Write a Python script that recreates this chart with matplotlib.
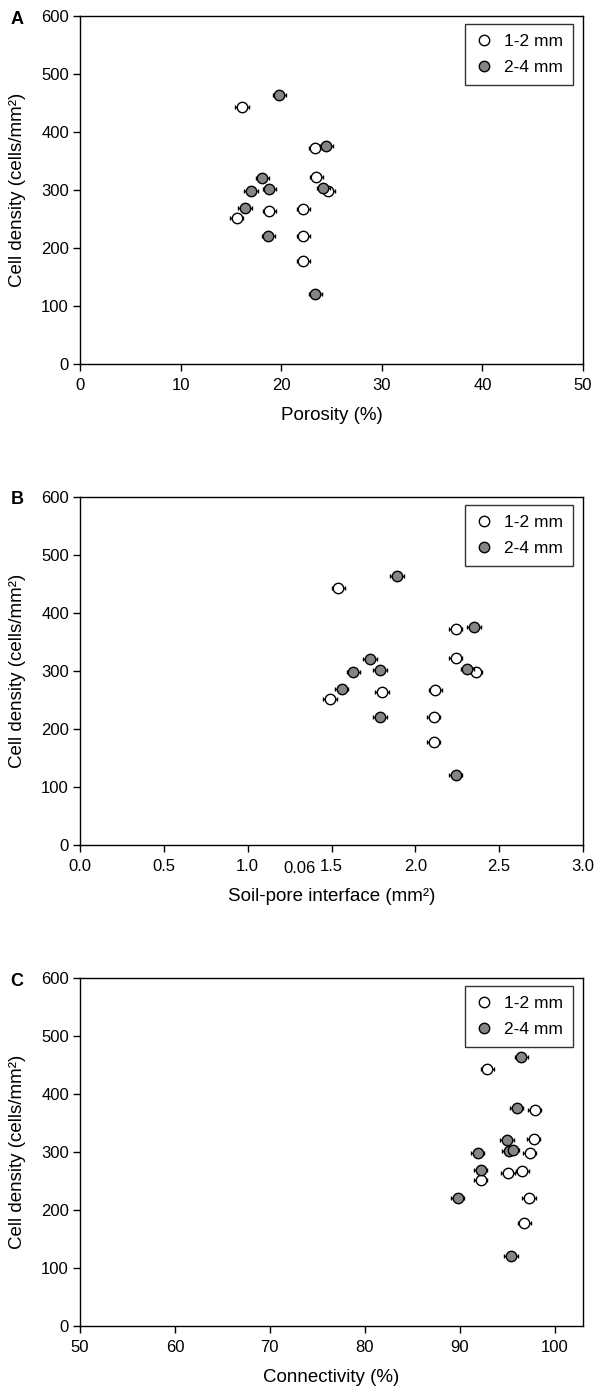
import matplotlib
matplotlib.use("Agg")
import matplotlib.pyplot as plt
from matplotlib.lines import Line2D
from matplotlib.ticker import FormatStrFormatter

plt.rcParams['font.family'] = ['Liberation Sans', 'DejaVu Sans']

# ---- data ----
series_labels = ["1-2 mm", "2-4 mm"]
# cell density (cells/mm2), shared by the three panels
y_small = [443, 372, 323, 298, 264, 267, 252, 221, 178]
y_large = [464, 376, 321, 298, 302, 303, 269, 221, 121]

porosity_small = [16.1, 23.4, 23.5, 24.7, 18.8, 22.2, 15.6, 22.2, 22.2]
porosity_large = [19.8, 24.5, 18.1, 17.0, 18.8, 24.2, 16.4, 18.7, 23.4]
porosity_err = 0.65

interface_small = [1.54, 2.24, 2.24, 2.36, 1.80, 2.12, 1.49, 2.11, 2.11]
interface_large = [1.89, 2.35, 1.73, 1.63, 1.79, 2.31, 1.56, 1.79, 2.24]
interface_err = 0.04

connect_small = [92.9, 97.9, 97.8, 97.4, 95.1, 96.6, 92.2, 97.3, 96.8]
connect_large = [96.5, 96.0, 95.0, 91.9, 95.2, 95.6, 92.2, 89.8, 95.4]
connect_err = 0.7

panels = [
    dict(letter="A", xs=porosity_small, xl=porosity_large, err=porosity_err,
         xlim=(0, 50), xticks=[0, 10, 20, 30, 40, 50], fmt=None,
         xlabel="Porosity (%)"),
    dict(letter="B", xs=interface_small, xl=interface_large, err=interface_err,
         xlim=(0, 3), xticks=[0.0, 0.5, 1.0, 1.5, 2.0, 2.5, 3.0], fmt="%.1f",
         xlabel="Soil-pore interface (mm²)"),
    dict(letter="C", xs=connect_small, xl=connect_large, err=connect_err,
         xlim=(50, 103), xticks=[50, 60, 70, 80, 90, 100], fmt=None,
         xlabel="Connectivity (%)"),
]

W, H = 597, 1391
fig = plt.figure(figsize=(W / 100, H / 100), dpi=100)

left_px, right_px = 80, 583
tops = [16, 497, 978]
ax_h = 348
MS = 7.5
GRAY = '#858585'

for p, top in zip(panels, tops):
    ax = fig.add_axes([left_px / W, 1 - (top + ax_h) / H,
                       (right_px - left_px) / W, ax_h / H])
    ax.errorbar(p["xs"], y_small, xerr=p["err"], fmt='o', ms=MS,
                mfc='white', mec='black', mew=1.0, ecolor='black',
                elinewidth=1.0, capsize=1.5, capthick=1.0, zorder=3)
    ax.errorbar(p["xl"], y_large, xerr=p["err"], fmt='o', ms=MS,
                mfc=GRAY, mec='black', mew=1.0, ecolor='black',
                elinewidth=1.0, capsize=1.5, capthick=1.0, zorder=4)
    ax.set_xlim(*p["xlim"])
    ax.set_ylim(0, 600)
    ax.set_xticks(p["xticks"])
    ax.set_yticks(range(0, 601, 100))
    if p["fmt"]:
        ax.xaxis.set_major_formatter(FormatStrFormatter(p["fmt"]))
    ax.tick_params(axis='both', direction='out', length=5, width=1,
                   labelsize=12, colors='black')
    ax.tick_params(axis='x', pad=5)
    ax.tick_params(axis='y', pad=3)
    for s in ax.spines.values():
        s.set_linewidth(1.0)
        s.set_color('black')
    ax.set_xlabel(p["xlabel"], fontsize=13.5)
    ax.xaxis.label.set_va('center')
    ax.xaxis.set_label_coords(0.5, -52 / ax_h)
    ax.set_ylabel("Cell density (cells/mm²)", fontsize=13.5)
    ax.yaxis.label.set_va('center')
    ax.yaxis.set_label_coords((18 - left_px) / (right_px - left_px), 0.5)

    handles = [
        Line2D([], [], ls='none', marker='o', ms=MS, mfc='white', mec='black', mew=1.0),
        Line2D([], [], ls='none', marker='o', ms=MS, mfc=GRAY, mec='black', mew=1.0),
    ]
    leg = ax.legend(handles, series_labels, loc='upper right',
                    bbox_to_anchor=(1 - 10 / 503, 1 - 8 / 348), borderaxespad=0,
                    fontsize=12.5, frameon=True, fancybox=False, edgecolor='black',
                    handlelength=1.0, handletextpad=0.7, labelspacing=0.65,
                    borderpad=0.55)
    leg.get_frame().set_linewidth(1.0)

    fig.text(17 / W, 1 - (top + 3) / H, p["letter"], fontsize=13,
             fontweight='bold', ha='center', va='center')

    if p["letter"] == "B":
        ax.text(1.31, -24 / ax_h, "0.06", transform=ax.get_xaxis_transform(),
                ha='center', va='center', fontsize=12)

fig.savefig("out.png", dpi=100)
